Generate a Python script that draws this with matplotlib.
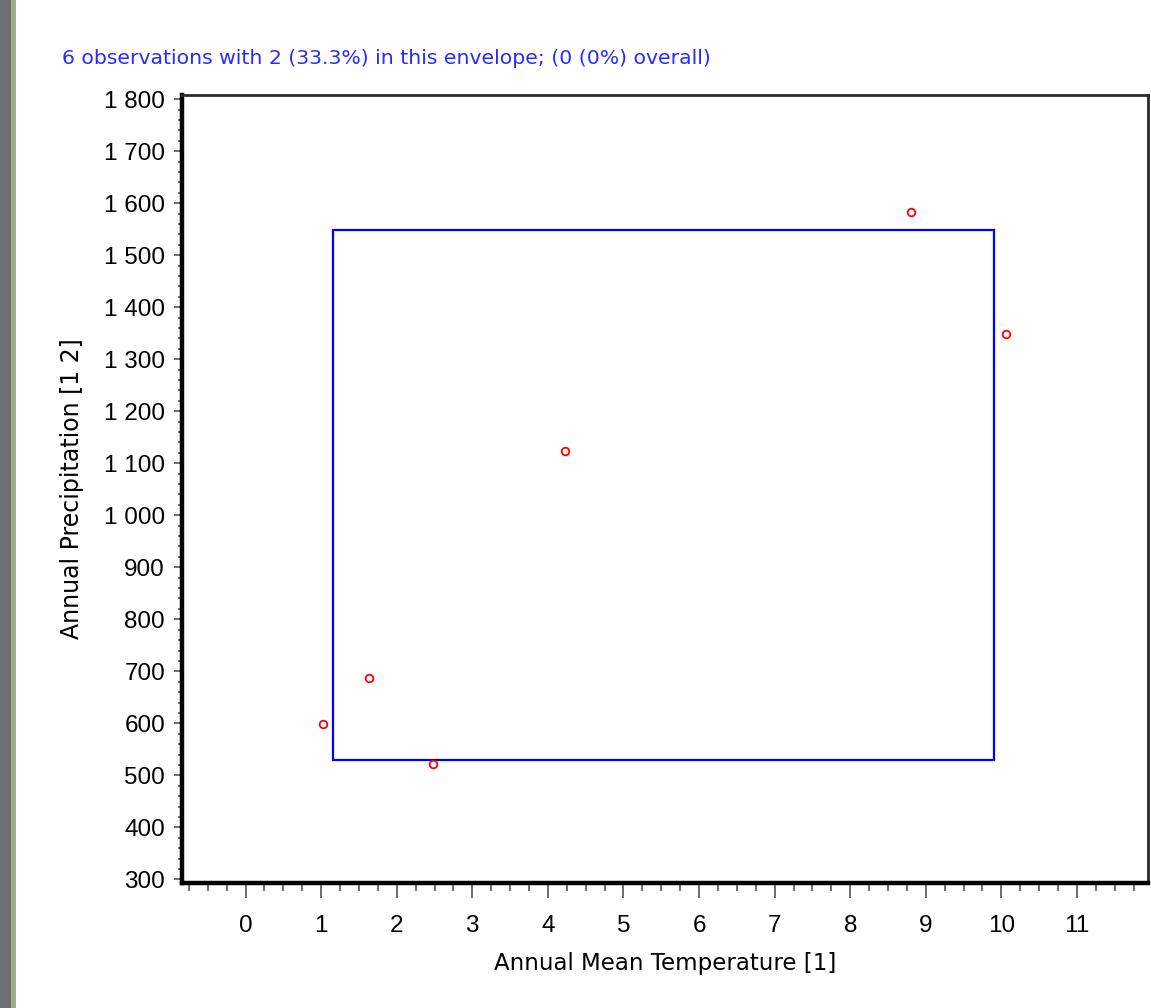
import matplotlib
matplotlib.use("Agg")
import matplotlib.pyplot as plt
from matplotlib.patches import Rectangle
from matplotlib.ticker import MultipleLocator, FuncFormatter

# Data
temperature = [1.03, 1.63, 2.48, 4.22, 8.80, 10.06]
precipitation = [599, 687, 521, 1124, 1583, 1349]
envelope_x = [1.16, 9.90]
envelope_y = [530, 1549]
title_text = "6 observations with 2 (33.3%) in this envelope; (0 (0%) overall)"
x_label = "Annual Mean Temperature [1]"
y_label = "Annual Precipitation [1 2]"
x_ticks = list(range(0, 12))
y_ticks = list(range(300, 1801, 100))

plt.rcParams['font.family'] = ['Liberation Sans', 'DejaVu Sans']

fig = plt.figure(figsize=(11.51, 10.08), dpi=100)
fig.patch.set_facecolor('white')
# left window strips
fig.patches.append(Rectangle((0, 0), 11/1151, 1, transform=fig.transFigure,
                             facecolor='#6e6e73', edgecolor='none'))
fig.patches.append(Rectangle((11/1151, 0), 5/1151, 1, transform=fig.transFigure,
                             facecolor='#9fae84', edgecolor='none'))

ax = fig.add_axes([181.7/1151, 1 - 883/1008, (1148-181.7)/1151, (883-95)/1008])
ax.set_xlim(-0.845, 11.94)
ax.set_ylim(293, 1808)

ax.add_patch(Rectangle((envelope_x[0], envelope_y[0]),
                       envelope_x[1]-envelope_x[0], envelope_y[1]-envelope_y[0],
                       fill=False, edgecolor='#0000ff', linewidth=1.6, zorder=2))
ax.plot(temperature, precipitation, linestyle='none', marker='o', markersize=5.5,
        markerfacecolor='none', markeredgecolor='#ff0000', markeredgewidth=1.3, zorder=3)

ax.xaxis.set_minor_locator(MultipleLocator(0.25))
ax.yaxis.set_minor_locator(MultipleLocator(20))
ax.set_xticks(x_ticks)
ax.set_yticks(y_ticks)
ax.yaxis.set_major_formatter(FuncFormatter(lambda v, p: f"{int(v):,}".replace(",", " ")))

for s in ['left', 'bottom']:
    ax.spines[s].set_linewidth(3.2)
    ax.spines[s].set_color('black')
for s in ['top', 'right']:
    ax.spines[s].set_linewidth(2.0)
    ax.spines[s].set_color('#2a2a2a')

ax.tick_params(axis='x', which='major', length=11, width=1.2, color='#555555',
               labelsize=17.5, pad=12)
ax.tick_params(axis='x', which='minor', length=6, width=1.2, color='#555555')
ax.tick_params(axis='y', which='major', length=6, width=1.2, color='#555555',
               labelsize=17.5, pad=6)
ax.tick_params(axis='y', which='minor', length=3, width=1.2, color='#555555')

ax.set_xlabel(x_label, fontsize=16.5, labelpad=11, family=['DejaVu Sans'])
ax.set_ylabel(y_label, fontsize=17, labelpad=14, family=['DejaVu Sans'])

fig.text(62/1151, 1 - 58/1008, title_text, color='#2b2bff', fontsize=14.7,
         ha='left', va='center', family=['DejaVu Sans'])

fig.savefig('out.png', dpi=100)
